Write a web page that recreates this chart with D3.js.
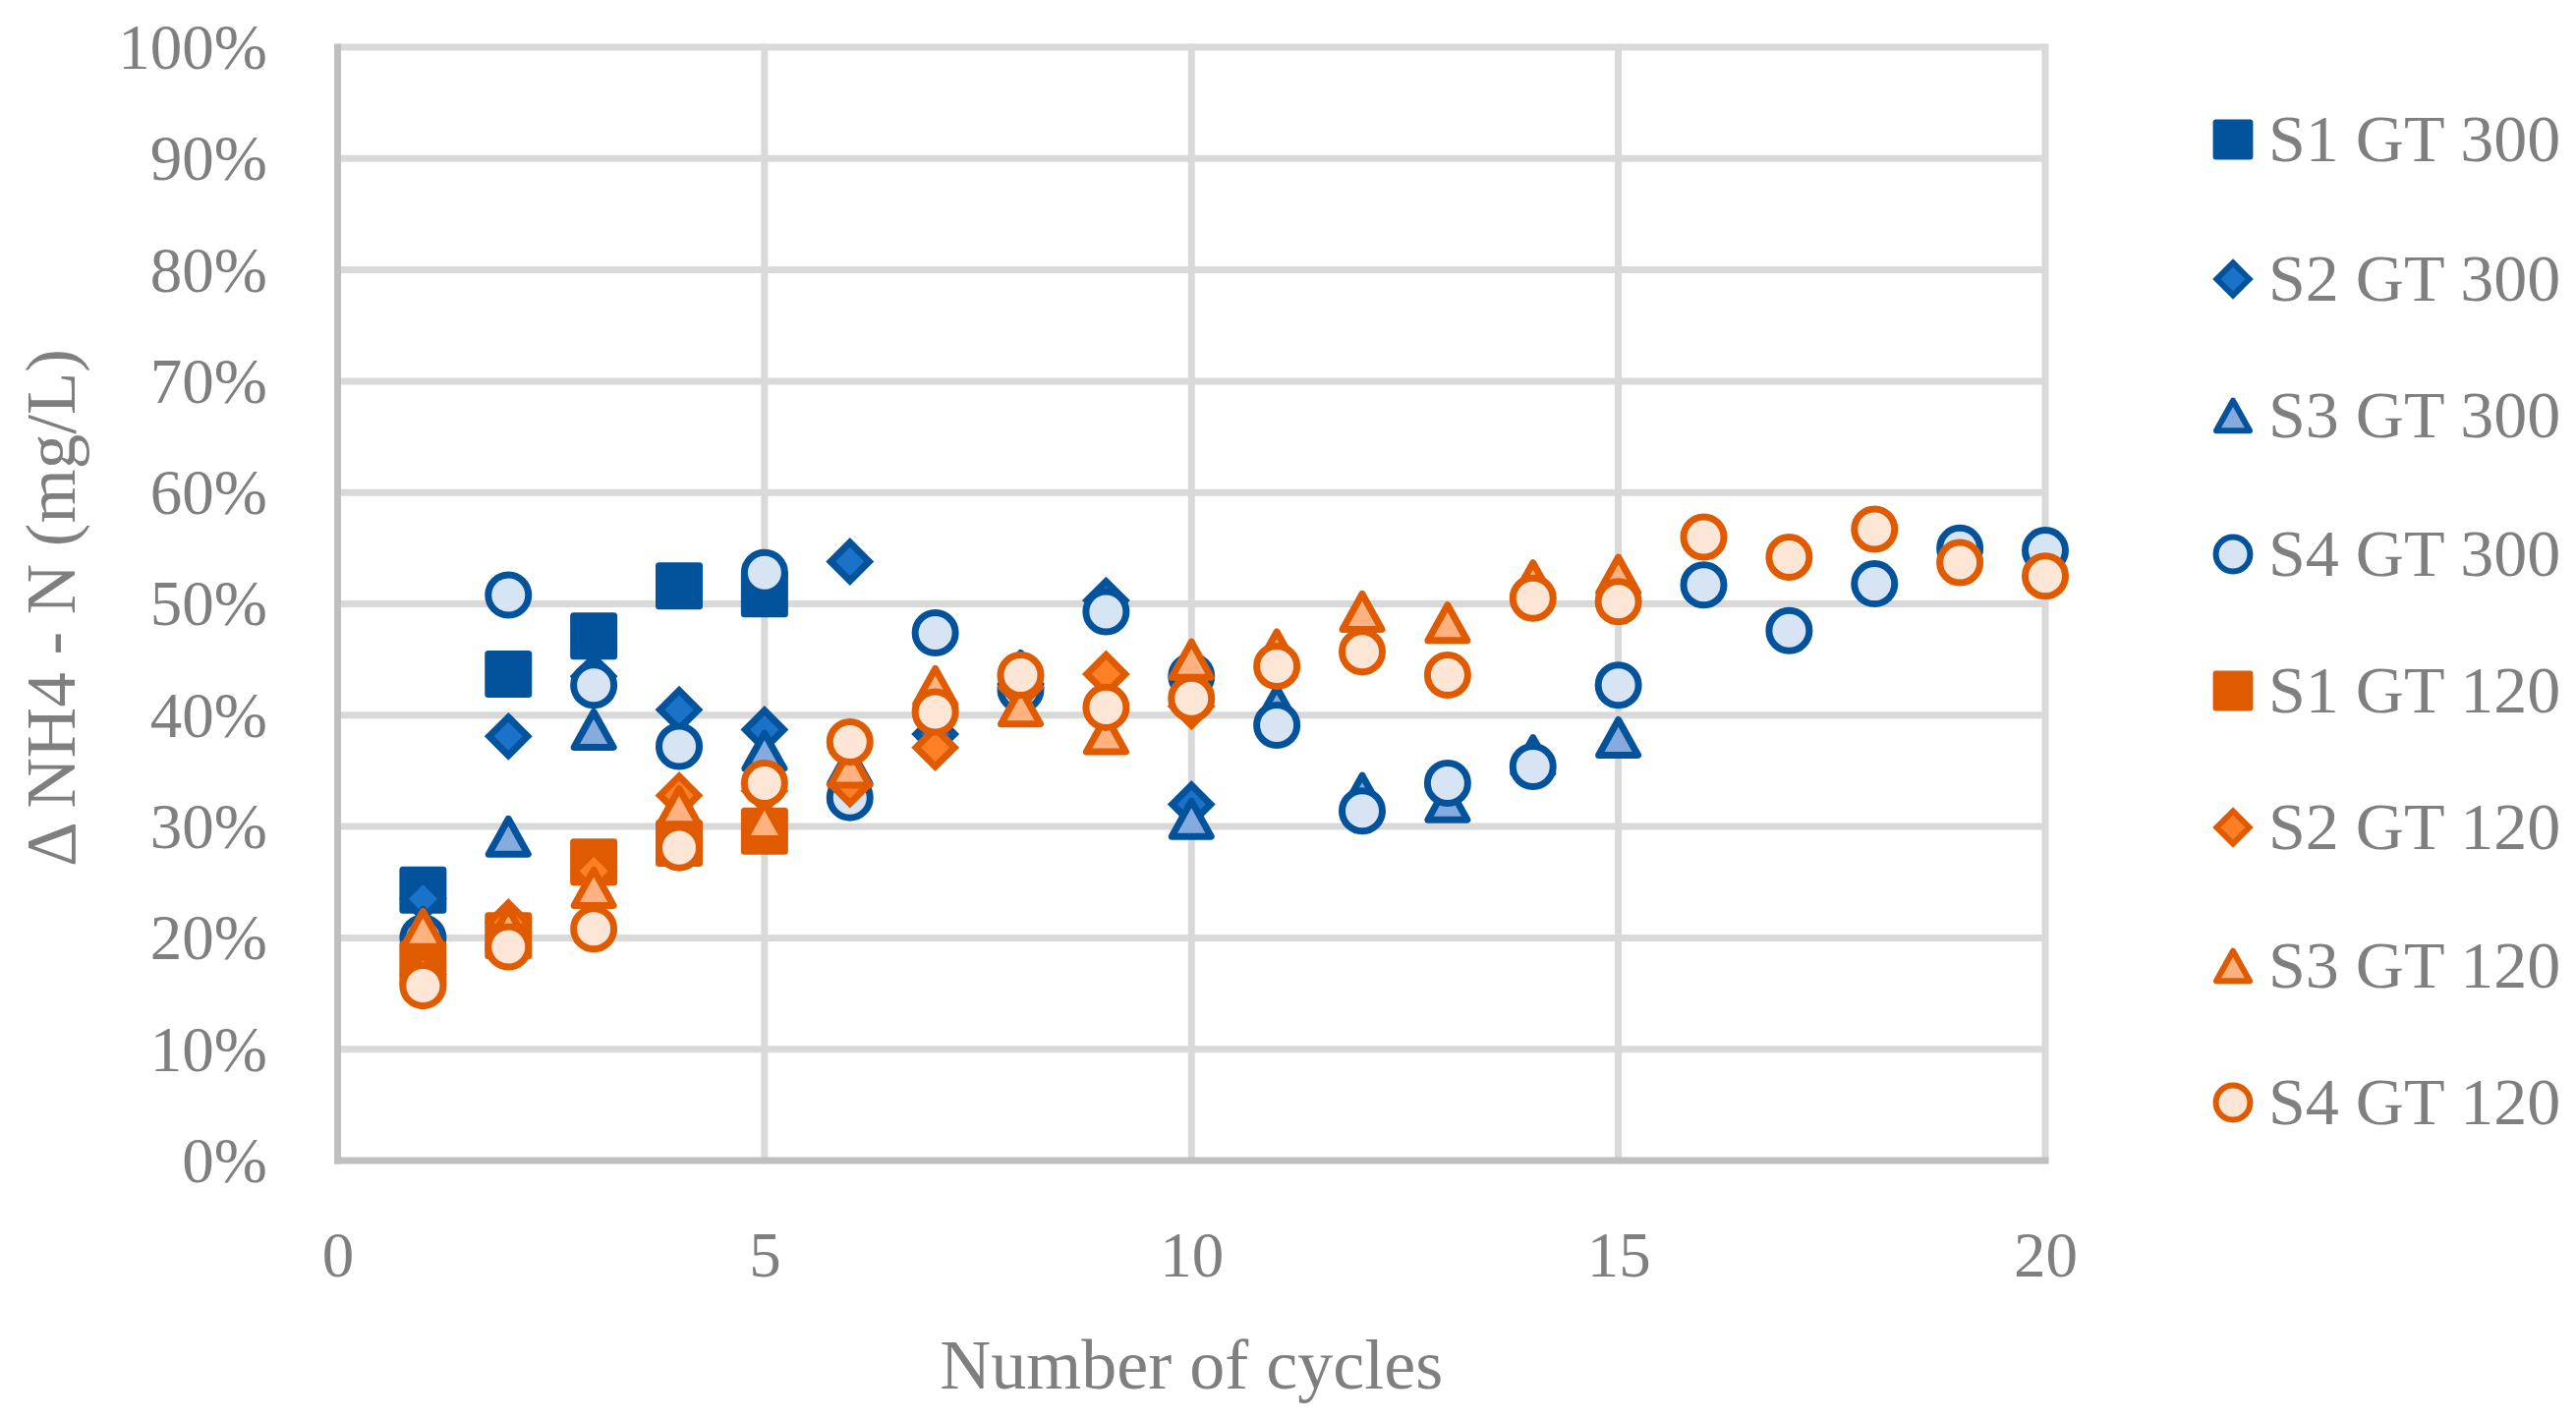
<!DOCTYPE html>
<html><head><meta charset="utf-8">
<script src="https://cdn.jsdelivr.net/npm/d3@7"></script>
<style>html,body{margin:0;padding:0;background:#fff;} svg{display:block;}</style>
</head><body>
<svg id="chart" width="2621" height="1444"></svg>
<script>
// ---------- data ----------
const xTicks = [0, 5, 10, 15, 20];
const yTicks = [0, 0.1, 0.2, 0.3, 0.4, 0.5, 0.6, 0.7, 0.8, 0.9, 1.0];
const xTitle = "Number of cycles";
const yTitle = "Δ NH4 - N (mg/L)";
const seriesNames = ["S1 GT 300", "S2 GT 300", "S3 GT 300", "S4 GT 300",
                     "S1 GT 120", "S2 GT 120", "S3 GT 120", "S4 GT 120"];
const seriesShapes = ["square", "diamond", "triangle", "circle",
                      "square", "diamond", "triangle", "circle"];
const seriesStroke = ["#03539c", "#03539c", "#03539c", "#03539c",
                      "#e05a00", "#e05a00", "#e05a00", "#e05a00"];
const seriesFill = ["#03539c", "#1a73c8", "#85aade", "#d7e4f3",
                    "#e05a00", "#ff7f27", "#ffb27f", "#fee6d7"];

// [cycle, fraction]
const s1gt300 = [[1,0.243],[2,0.437],[3,0.471],[4,0.516],[5,0.509]];
const s2gt300 = [[1,0.235],[2,0.381],[3,0.435],[4,0.405],[5,0.387],[6,0.538],[7,0.383],[8,0.428],[9,0.503],[10,0.320]];
const s3gt300 = [[1,0.210],[2,0.291],[3,0.387],[5,0.368],[6,0.355],[8,0.440],[10,0.307],[11,0.409],[12,0.330],[13,0.322],[14,0.364],[15,0.380]];
const s4gt300 = [[1,0.200],[2,0.508],[3,0.427],[4,0.372],[5,0.528],[6,0.326],[7,0.474],[8,0.423],[9,0.493],[10,0.435],[11,0.391],[12,0.314],[13,0.339],[14,0.354],[15,0.427],[16,0.517],[17,0.476],[18,0.518],[19,0.550],[20,0.548]];
const s1gt120 = [[1,0.176],[2,0.202],[3,0.268],[4,0.285],[5,0.296]];
const s2gt120 = [[1,0.167],[2,0.214],[3,0.260],[4,0.328],[5,0.332],[6,0.338],[7,0.371],[8,0.425],[9,0.437],[10,0.408]];
const s3gt120 = [[1,0.208],[2,0.210],[3,0.245],[4,0.318],[5,0.305],[6,0.353],[7,0.426],[8,0.408],[9,0.383],[10,0.450],[11,0.459],[12,0.493],[13,0.483],[14,0.521],[15,0.526]];
const s4gt120 = [[1,0.157],[2,0.192],[3,0.208],[4,0.281],[5,0.339],[6,0.376],[7,0.403],[8,0.436],[9,0.407],[10,0.415],[11,0.444],[12,0.457],[13,0.436],[14,0.505],[15,0.502],[16,0.560],[17,0.542],[18,0.567],[19,0.537],[20,0.525]];
const seriesValues = [s1gt300, s2gt300, s3gt300, s4gt300, s1gt120, s2gt120, s3gt120, s4gt120];

// ---------- layout ----------
const W = 2621, H = 1444;
const plot = {left: 343.5, right: 2081, top: 48, bottom: 1181};
const FONT = "'Liberation Serif', 'DejaVu Serif', serif";
const TEXT = "#7f7f7f";

const svg = d3.select("#chart");
svg.append("rect").attr("width", W).attr("height", H).attr("fill", "#fff");

const x = d3.scaleLinear().domain([0, 20]).range([plot.left, plot.right]);
const y = d3.scaleLinear().domain([0, 1]).range([plot.bottom, plot.top]);

// gridlines
const grid = svg.append("g");
grid.selectAll("line.h").data(yTicks.filter(d => d > 0)).join("line")
  .attr("x1", plot.left).attr("x2", plot.right)
  .attr("y1", d => y(d)).attr("y2", d => y(d))
  .attr("stroke", "#d9d9d9").attr("stroke-width", 7);
grid.selectAll("line.v").data(xTicks.filter(d => d > 0)).join("line")
  .attr("x1", d => x(d)).attr("x2", d => x(d))
  .attr("y1", plot.top - 3.5).attr("y2", plot.bottom)
  .attr("stroke", "#d9d9d9").attr("stroke-width", 7);

// axes lines
svg.append("line").attr("x1", plot.left).attr("x2", plot.left)
  .attr("y1", plot.top - 3.5).attr("y2", plot.bottom + 3.5)
  .attr("stroke", "#bfbfbf").attr("stroke-width", 7);
svg.append("line").attr("x1", plot.left - 3.5).attr("x2", plot.right + 3.5)
  .attr("y1", plot.bottom).attr("y2", plot.bottom)
  .attr("stroke", "#bfbfbf").attr("stroke-width", 7);

// tick labels via d3 axes
const yAxis = svg.append("g").attr("transform", `translate(272,0)`)
  .call(d3.axisLeft(y).tickValues(yTicks).tickFormat(d3.format(".0%")).tickSize(0).tickPadding(0));
yAxis.select(".domain").remove();
yAxis.selectAll("text").attr("fill", TEXT).style("font-family", FONT).style("font-size", "65px")
  .attr("dy", "0.33em");

const xAxis = svg.append("g").attr("transform", `translate(0,${1253})`)
  .call(d3.axisBottom(x).tickValues(xTicks).tickFormat(d3.format("d")).tickSize(0).tickPadding(0));
xAxis.select(".domain").remove();
xAxis.selectAll("text").attr("fill", TEXT).style("font-family", FONT).style("font-size", "65px")
  .attr("dy", "0.7em");

// axis titles
svg.append("text").attr("x", (plot.left + plot.right) / 2).attr("y", 1413)
  .attr("text-anchor", "middle").attr("fill", TEXT)
  .style("font-family", FONT).style("font-size", "72px").text(xTitle);
svg.append("text").attr("transform", `translate(76,${(plot.top + plot.bottom) / 2 + 4}) rotate(-90)`)
  .attr("text-anchor", "middle").attr("fill", TEXT)
  .style("font-family", FONT).style("font-size", "71px").text(yTitle);

// ---------- markers ----------
function shapePath(shape, s) {
  if (shape === "square") { const h = 20.5 * s; return `M${-h},${-h}H${h}V${h}H${-h}Z`; }
  if (shape === "diamond") { const h = 19.5 * s; return `M0,${-h}L${h},0L0,${h}L${-h},0Z`; }
  if (shape === "triangle") { const w = 20 * s, t = 18 * s; return `M0,${-t}L${w},${t}L${-w},${t}Z`; }
  const r = 20.5 * s;
  return `M${r},0A${r},${r} 0 1,1 ${-r},0A${r},${r} 0 1,1 ${r},0Z`;
}

const marks = svg.append("g");
seriesValues.forEach((vals, i) => {
  marks.append("g").selectAll("path").data(vals).join("path")
    .attr("transform", d => `translate(${x(d[0])},${y(d[1])})`)
    .attr("d", shapePath(seriesShapes[i], 1))
    .attr("fill", seriesFill[i]).attr("stroke", seriesStroke[i])
    .attr("stroke-width", 7)
    .attr("stroke-linejoin", seriesShapes[i] === "diamond" ? "miter" : "round");
});

// ---------- legend ----------
const legendY = [142, 284, 423, 564, 703, 842, 983, 1122];
const legend = svg.append("g");
seriesNames.forEach((name, i) => {
  const g = legend.append("g").attr("transform", `translate(2272,${legendY[i]})`);
  g.append("path").attr("d", shapePath(seriesShapes[i], 0.85))
    .attr("fill", seriesFill[i]).attr("stroke", seriesStroke[i]).attr("stroke-width", 6)
    .attr("stroke-linejoin", seriesShapes[i] === "diamond" ? "miter" : "round");
  g.append("text").attr("x", 36).attr("dy", "0.33em").attr("fill", TEXT)
    .style("font-family", FONT).style("font-size", "68px").text(name);
});
</script>
</body></html>
